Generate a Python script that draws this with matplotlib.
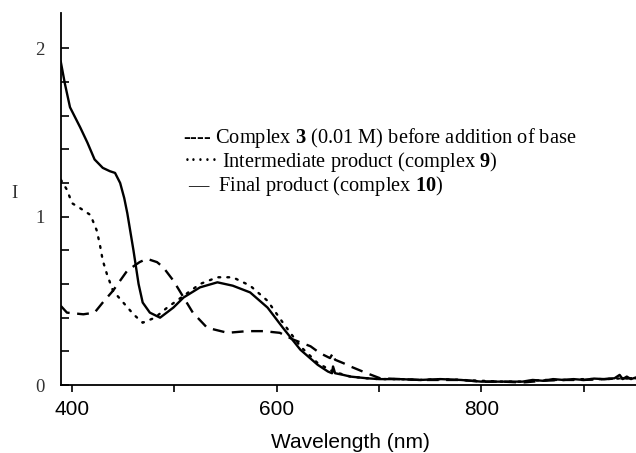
import matplotlib
matplotlib.use("Agg")
import matplotlib.pyplot as plt

# --- data (wavelength in nm, intensity I) ---
wl_final = [389, 393, 398, 408, 415, 422, 430, 437, 442, 447, 451, 454, 457, 460,
            465, 469, 476, 486, 499, 509, 525, 542, 557, 574, 591, 606, 623, 640,
            650, 654, 655, 657, 665, 672, 688, 700, 720, 740, 760, 780, 800, 820,
            840, 850, 860, 870, 880, 890, 900, 910, 920, 930, 935, 938, 942, 946, 951]
i_final = [1.92, 1.79, 1.65, 1.53, 1.44, 1.34, 1.29, 1.27, 1.26, 1.20, 1.11, 1.02, 0.91, 0.80,
           0.60, 0.49, 0.43, 0.40, 0.46, 0.52, 0.58, 0.61, 0.59, 0.55, 0.46, 0.34, 0.21, 0.12,
           0.08, 0.07, 0.11, 0.07, 0.06, 0.05, 0.04, 0.035, 0.035, 0.03, 0.035, 0.03, 0.02, 0.02,
           0.02, 0.03, 0.025, 0.035, 0.03, 0.035, 0.03, 0.038, 0.035, 0.04, 0.06, 0.035, 0.05,
           0.035, 0.045]

wl_inter = [389, 395, 400, 408, 418, 424, 427, 430, 434, 440, 450, 460, 469, 481,
            493, 509, 525, 542, 557, 574, 591, 606, 623, 640, 655, 672, 688, 700,
            720, 740, 760, 780, 800, 820, 840, 860, 880, 900, 920, 940, 951]
i_inter = [1.22, 1.16, 1.08, 1.05, 1.01, 0.92, 0.84, 0.74, 0.66, 0.56, 0.49, 0.42, 0.37, 0.40,
           0.46, 0.53, 0.60, 0.64, 0.64, 0.59, 0.50, 0.37, 0.23, 0.13, 0.08, 0.05, 0.04, 0.035,
           0.035, 0.03, 0.035, 0.03, 0.025, 0.02, 0.02, 0.03, 0.03, 0.035, 0.035, 0.04, 0.04]

wl_cplx3 = [389, 395, 411, 422, 430, 440, 454, 466, 473, 483, 489, 499, 509, 518,
            532, 552, 571, 587, 603, 616, 633, 642, 652, 655, 657, 665, 672, 688,
            701, 720, 740, 760, 780, 800, 820, 840, 860, 880, 900, 920, 940, 951]
i_cplx3 = [0.47, 0.43, 0.42, 0.43, 0.49, 0.56, 0.68, 0.73, 0.75, 0.73, 0.70, 0.62, 0.52, 0.43,
           0.34, 0.31, 0.32, 0.32, 0.31, 0.27, 0.23, 0.19, 0.16, 0.19, 0.15, 0.13, 0.11, 0.07,
           0.04, 0.035, 0.03, 0.03, 0.03, 0.02, 0.02, 0.015, 0.025, 0.03, 0.03, 0.035, 0.04, 0.04]

x_ticks_major = [400, 600, 800]
x_ticks_minor = [500, 700, 900]
y_ticks_major = [0, 1, 2]
y_ticks_minor = [0.2, 0.4, 0.6, 0.8, 1.2, 1.4, 1.6, 1.8]

legend_lines = [
    r"---- Complex $\mathbf{3}$ (0.01 M) before addition of base",
    r"····· Intermediate product (complex $\mathbf{9}$)",
    r" —  Final product (complex $\mathbf{10}$)",
]

plt.rcParams["mathtext.fontset"] = "custom"
plt.rcParams["mathtext.rm"] = "Liberation Serif"
plt.rcParams["mathtext.bf"] = "Liberation Serif:bold"

fig = plt.figure(figsize=(6.36, 4.53), dpi=100)
ax = fig.add_axes([61 / 636, 68 / 453, 575 / 636, 372 / 453])

lw = 1.7
ax.plot(wl_cplx3, i_cplx3, color="black", lw=lw, linestyle=(0, (5, 3.2)))
ax.plot(wl_inter, i_inter, color="black", lw=lw, linestyle=(0, (0.8, 3.0)),
        dash_capstyle="round")
ax.plot(wl_final, i_final, color="black", lw=lw, linestyle="-")

ax.set_xlim(389.2, 951)
ax.set_ylim(0, 2.21)

ax.spines["top"].set_visible(False)
ax.spines["right"].set_visible(False)
ax.spines["left"].set_linewidth(1.3)
ax.spines["bottom"].set_linewidth(1.3)

ax.set_xticks(x_ticks_major)
ax.set_xticks(x_ticks_minor, minor=True)
ax.set_yticks(y_ticks_major)
ax.set_yticks(y_ticks_minor, minor=True)
ax.tick_params(axis="x", which="both", direction="out", length=5, width=1.2,
               labelsize=15, pad=6)
ax.tick_params(axis="y", which="both", direction="in", length=6, width=1.2,
               labelsize=13.5, pad=12, labelcolor="#333333")
for lab in ax.get_xticklabels():
    lab.set_fontfamily("Liberation Sans")
for lab in ax.get_yticklabels():
    lab.set_fontfamily("Liberation Serif")

fig.text(271 / 636, 1 - 443 / 453, "Wavelength (nm)", fontsize=15,
         family="Liberation Sans", va="center", ha="left")
fig.text(14 / 636, 1 - 193 / 453, "I", fontsize=13.5, family="Liberation Serif",
         va="center", ha="center", color="#333333")

for k, line in enumerate(legend_lines):
    fig.text(183 / 636, 1 - (138 + 24 * k) / 453, line, fontsize=14.7,
             family="Liberation Serif", va="center", ha="left")

fig.savefig("out.png", dpi=100)
